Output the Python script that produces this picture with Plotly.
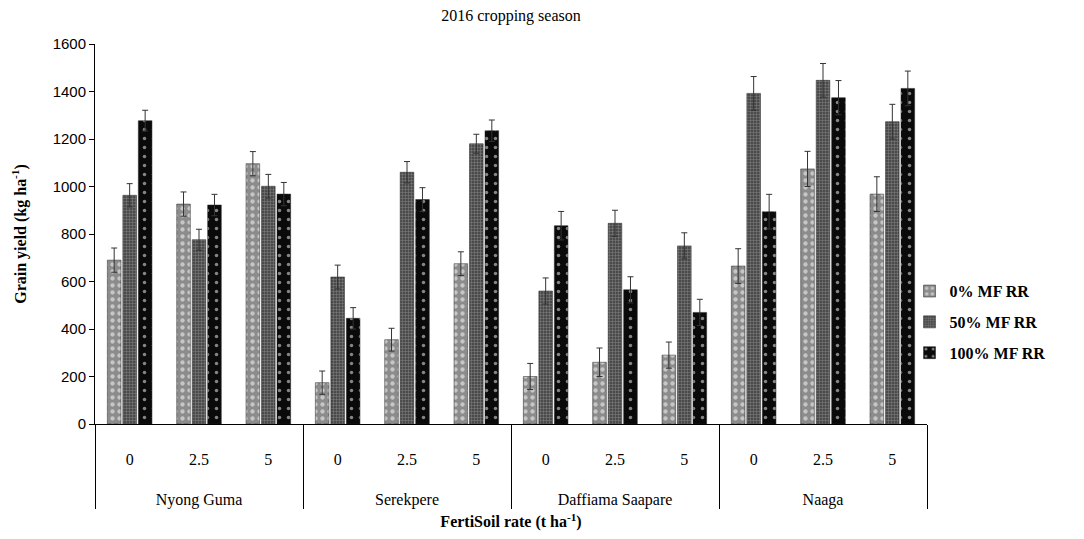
import plotly.graph_objects as go

sites = ['Nyong Guma', 'Serekpere', 'Daffiama Saapare', 'Naaga']
rates = ['0', '2.5', '5']

# grain yield (kg/ha), one value per site x rate
mf0 = [690, 926, 1096, 174, 355, 675, 200, 260, 290, 665, 1074, 968]
mf50 = [963, 776, 1001, 619, 1060, 1180, 560, 845, 750, 1392, 1447, 1273]
mf100 = [1277, 922, 968, 445, 945, 1235, 835, 565, 470, 894, 1374, 1413]

err0 = [51, 51, 51, 49, 48, 50, 55, 60, 55, 73, 74, 73]
err50 = [49, 44, 50, 50, 45, 40, 55, 55, 55, 71, 71, 73]
err100 = [44, 45, 49, 45, 50, 45, 60, 55, 55, 73, 72, 73]

# blank lines above each label level push them lower, like the original
x_site = ['<br><br>' + s for s in sites for r in rates]
x_rate = ['<br>' + r for s in sites for r in rates]

serif = 'Liberation Serif'

fig = go.Figure()

def add_bar(name, vals, errs, bg, fg, shape, size, solid):
    fig.add_trace(go.Bar(
        x=[x_site, x_rate],
        y=vals,
        name=name,
        legendgroup=name,
        marker=dict(color=bg, line=dict(color='#222222', width=0.5),
                    pattern=dict(shape=shape, bgcolor=bg, fgcolor=fg,
                                 size=size, solidity=solid, fillmode='overlay')),
        error_y=dict(type='data', array=errs, visible=True,
                     color='#333333', thickness=1, width=3),
    ))

add_bar('0% MF RR', mf0, err0, '#8c8c8c', '#ffffff', '.', 7, 0.3)
add_bar('50% MF RR', mf50, err50, '#4a4a4a', '#bbbbbb', '+', 3, 0.3)
add_bar('100% MF RR', mf100, err100, '#0a0a0a', '#ffffff', '.', 9, 0.12)

fig.update_layout(
    width=1084, height=539,
    margin=dict(l=87, r=165, t=36, b=123),
    paper_bgcolor='white', plot_bgcolor='white',
    barmode='group', bargap=0.33, bargroupgap=0.12,
    title=dict(text='2016 cropping season', x=0.5, xref='paper', y=0.996,
               yanchor='top',
               font=dict(family=serif, size=16, color='black')),
    legend=dict(x=0.979, y=0.268, xanchor='left', yanchor='middle',
                bgcolor='rgba(0,0,0,0)',
                font=dict(family=serif, size=16, color='black', weight='bold'),
                itemwidth=30, tracegroupgap=7),
    showlegend=True,
)

fig.update_yaxes(
    range=[0, 1600], dtick=200, showline=True, linecolor='black', linewidth=1,
    ticks='outside', ticklen=5, tickcolor='black', showgrid=False, zeroline=False,
    tickfont=dict(family='Liberation Sans', size=15, color='black'),
    title=dict(text='<b>Grain yield (kg ha<sup>-1</sup>)</b>', standoff=22,
               font=dict(family=serif, size=16, color='black')),
)

fig.update_xaxes(
    showline=True, linecolor='black', linewidth=1, showgrid=False,
    showdividers=True, dividercolor='black', dividerwidth=1,
    tickfont=dict(family=serif, size=16, color='black'),
    title=dict(text='<b>FertiSoil rate (t ha<sup>-1</sup>)</b>', standoff=8,
               font=dict(family=serif, size=16, color='black')),
)

fig.write_html('out.html')
